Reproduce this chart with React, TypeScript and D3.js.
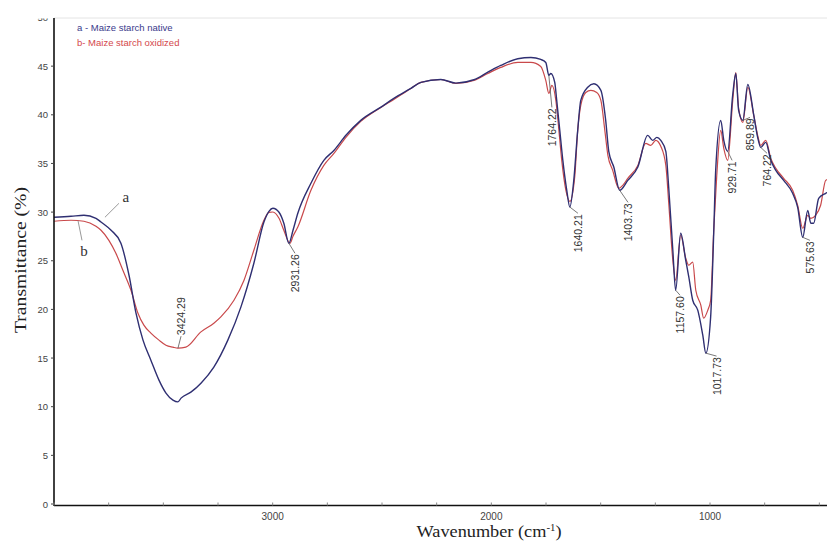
import React from "react";
import * as d3 from "d3";

const W = 827;
const H = 542;

// a - Maize starch native
const nativeWavenumber = [4000,3922,3863,3808,3785,3739,3694,3657,3625,3593,3557,3520,3488,3456,3433,3419,3374,3328,3269,3205,3145,3086,3040,3017,2999,2971,2949,2926,2907,2885,2825,2766,2720,2665,2597,2505,2446,2368,2322,2231,2162,2080,2016,1957,1879,1819,1774,1751,1737,1728,1710,1701,1687,1673,1655,1641,1623,1605,1591,1559,1531,1499,1477,1463,1440,1413,1376,1330,1285,1262,1243,1225,1202,1189,1170,1157,1134,1111,1097,1079,1056,1033,1019,997,983,974,951,937,919,896,882,869,850,827,800,782,768,745,722,699,663,622,599,576,553,539,526,503,471,448,420];
const nativeTransmittance = [29.47,29.57,29.67,29.36,28.98,28.13,26.8,23.51,19.61,16.84,14.78,12.73,11.4,10.68,10.5,10.88,11.5,12.42,14.07,16.84,20.26,24.74,28.98,30.08,30.39,29.98,28.85,26.8,28.13,29.88,32.96,35.32,36.34,37.89,39.43,40.79,41.68,42.71,43.33,43.63,43.26,43.6,44.38,45.07,45.76,45.89,45.69,45.38,44.05,44.25,43.33,41.48,38.4,35.32,32.24,30.52,33.26,38.4,41.48,42.84,43.19,42.51,39.43,36.24,34.63,32.24,33.26,34.63,37.89,37.37,37.68,37.37,36.24,32.58,26.08,21.97,27.82,25.05,23.34,20.94,19.92,17.35,15.5,19.23,27.82,34.29,39.43,37.37,36.24,42.09,44.25,40.45,39.43,43.12,40.0,37.68,36.65,37.17,35.32,34.29,33.26,31.93,30.49,27.41,30.18,28.85,28.85,31.42,31.93,32.24,32.5];

// b - Maize starch oxidized
const oxidizedWavenumber = [4000,3922,3863,3808,3785,3749,3717,3685,3648,3616,3589,3557,3520,3488,3456,3433,3397,3328,3269,3237,3177,3131,3086,3040,3017,2999,2971,2949,2921,2907,2885,2825,2766,2720,2665,2597,2505,2446,2368,2322,2231,2162,2080,2016,1957,1879,1819,1774,1751,1737,1723,1705,1691,1678,1659,1641,1618,1605,1591,1568,1545,1518,1499,1481,1467,1445,1417,1399,1376,1330,1294,1271,1248,1225,1202,1189,1170,1157,1134,1111,1097,1079,1065,1042,1029,1010,997,983,969,951,937,919,896,882,869,850,827,800,782,768,745,722,699,663,622,599,576,553,539,517,494,471,448,420];
const oxidizedTransmittance = [29.06,29.16,29.06,28.54,28.13,27.1,25.77,24.02,21.97,19.61,18.38,17.56,16.84,16.32,16.12,16.02,16.12,17.69,18.58,19.23,20.94,23.0,26.08,29.16,29.98,30.01,29.36,28.13,26.8,27.52,28.47,32.24,34.8,36.03,37.68,39.32,40.76,41.58,42.71,43.33,43.63,43.22,43.53,44.25,44.87,45.38,45.38,44.97,43.53,42.2,43.02,41.48,38.4,35.32,32.24,31.1,33.78,38.4,40.97,42.3,42.51,42.3,41.48,38.4,35.83,34.29,32.44,32.75,33.47,34.8,37.06,36.86,37.37,36.76,34.8,31.01,25.05,23.0,27.62,25.26,24.54,24.85,21.97,20.43,19.1,19.92,20.94,28.13,33.78,38.4,36.55,35.32,41.48,44.35,40.66,39.22,42.81,39.94,37.89,36.86,37.37,35.52,34.5,33.47,32.24,30.7,28.34,29.67,29.36,29.67,30.7,33.26,33.47,33.6];

const xTickLabels = [3000, 2000, 1000];
const yTickValues = [0, 5, 10, 15, 20, 25, 30, 35, 40, 45, 50];

// peak annotations
const peakLabels = ["3424.29", "2931.26", "1764.22", "1640.21", "1403.73", "1157.60", "1017.73", "929.71", "859.89", "764.22", "575.63"];
const peakCurveWavenumber = [3433, 2926, 1737, 1641, 1413, 1157, 1019, 919, 850, 768, 576];
const peakCurveTransmittance = [16.02, 26.8, 44.05, 30.52, 32.24, 21.97, 15.5, 36.24, 39.43, 36.65, 27.41];
const peakLabelWavenumber = [3419, 2898, 1723, 1604, 1375, 1137, 970, 899, 817, 739, 543];
const peakLabelTransmittance = [17.25, 25.77, 40.76, 29.88, 31.0, 21.46, 15.2, 35.32, 39.73, 36.04, 27.1];
const peakLabelAbove = [true, false, false, false, false, false, false, false, false, false, false];

const legendLabels = ["a - Maize starch native", "b- Maize starch oxidized"];
const NAVY = "#2f2f72";
const RED = "#c9494b";

export default function App() {
  const x = d3.scaleLinear().domain([4000, 1000]).range([54, 710]);
  const y = d3.scaleLinear().domain([0, 50]).range([504, 17.5]);
  const line = d3
    .line<[number, number]>()
    .x((d) => x(d[0]))
    .y((d) => y(d[1]))
    .curve(d3.curveMonotoneX);

  const nativePts = nativeWavenumber.map((w, i) => [w, nativeTransmittance[i]] as [number, number]);
  const oxPts = oxidizedWavenumber.map((w, i) => [w, oxidizedTransmittance[i]] as [number, number]);

  const x0 = x(4000);
  const yAxisY = y(0) + 1.5;
  const minorTicks = d3.range(4000, 399, -250);
  const sans = "'Liberation Sans', Arial, sans-serif";
  const serif = "'Liberation Serif', 'Times New Roman', serif";

  return (
    <svg
      width={W}
      height={H}
      style={{ position: "absolute", left: 0, top: 0, background: "#fff" }}
    >
      <defs>
        <clipPath id="plot">
          <rect x={x0} y={18} width={W - x0} height={yAxisY - 18} />
        </clipPath>
        <clipPath id="ylab">
          <rect x={0} y={18.5} width={x0} height={H} />
        </clipPath>
      </defs>
      <rect width={W} height={H} fill="#fff" />
      {/* top frame */}
      <line x1={x0} x2={W} y1={18} y2={18} stroke="#e4e4e4" strokeWidth={1} />

      {/* curves */}
      <g clipPath="url(#plot)" fill="none">
        <path d={line(oxPts) || ""} stroke={RED} strokeWidth={1.2} />
        <path d={line(nativePts) || ""} stroke={NAVY} strokeWidth={1.4} />
      </g>

      {/* peak labels */}
      <g>
        {peakLabels.map((lab, i) => {
          const cx = x(peakCurveWavenumber[i]);
          const cy = y(peakCurveTransmittance[i]);
          const lx = x(peakLabelWavenumber[i]);
          const ly = y(peakLabelTransmittance[i]);
          return (
            <g key={lab}>
              <line x1={cx} y1={cy} x2={lx} y2={ly} stroke="#555" strokeWidth={0.8} />
              <text
                transform={`translate(${lx},${peakLabelAbove[i] ? ly - 1 : ly + 1}) rotate(-90)`}
                textAnchor={peakLabelAbove[i] ? "start" : "end"}
                dominantBaseline="central"
                fontFamily={sans}
                fontSize={10.5}
                fill="#333"
              >
                {lab}
              </text>
            </g>
          );
        })}
      </g>

      {/* a / b annotations */}
      <line x1={x(3767)} y1={y(29.47)} x2={x(3703)} y2={y(30.9)} stroke="#999" strokeWidth={1} />
      <text x={x(3671)} y={y(31.0)} fontFamily={serif} fontSize={15} fill="#333" textAnchor="middle">a</text>
      <line x1={x(3890)} y1={y(29.1)} x2={x(3872)} y2={y(27.1)} stroke="#999" strokeWidth={1} />
      <text x={x(3863)} y={y(25.5)} fontFamily={serif} fontSize={15} fill="#333" textAnchor="middle">b</text>

      {/* legend */}
      <text x={77} y={31} fontFamily={sans} fontSize={9.5} fill="#3a3a8c">{legendLabels[0]}</text>
      <text x={77} y={46} fontFamily={sans} fontSize={9.5} fill="#d4484c">{legendLabels[1]}</text>

      {/* axes */}
      <line x1={x0} x2={x0} y1={18} y2={yAxisY + 0.5} stroke="#111" strokeWidth={1.6} />
      <line x1={x0} x2={W} y1={yAxisY} y2={yAxisY} stroke="#111" strokeWidth={1.6} />
      {yTickValues.map((v) => (
        <g key={v} clipPath="url(#ylab)">
          <line x1={x0 - 3} x2={x0} y1={y(v)} y2={y(v)} stroke="#444" strokeWidth={1} />
          <text x={x0 - 6} y={y(v)} textAnchor="end" dominantBaseline="central" fontFamily={sans} fontSize={9.5} fill="#444">
            {v}
          </text>
        </g>
      ))}
      {minorTicks.map((t) => (
        <line key={t} x1={x(t)} x2={x(t)} y1={yAxisY - 3} y2={yAxisY} stroke="#888" strokeWidth={1} />
      ))}
      {xTickLabels.map((t) => (
        <text key={t} x={x(t)} y={520} textAnchor="middle" fontFamily={sans} fontSize={10} fill="#444">
          {t}
        </text>
      ))}

      {/* axis titles */}
      <text x={489} y={537} textAnchor="middle" fontFamily={serif} fontSize={17} fill="#222" textLength={145} lengthAdjust="spacingAndGlyphs">
        Wavenumber (cm<tspan dy={-6} fontSize={10}>-1</tspan><tspan dy={6}>)</tspan>
      </text>
      <text
        transform="translate(26,260) rotate(-90)"
        textAnchor="middle"
        fontFamily={serif}
        fontSize={17}
        fill="#222"
        textLength={146}
        lengthAdjust="spacingAndGlyphs"
      >
        Transmittance (%)
      </text>
    </svg>
  );
}
